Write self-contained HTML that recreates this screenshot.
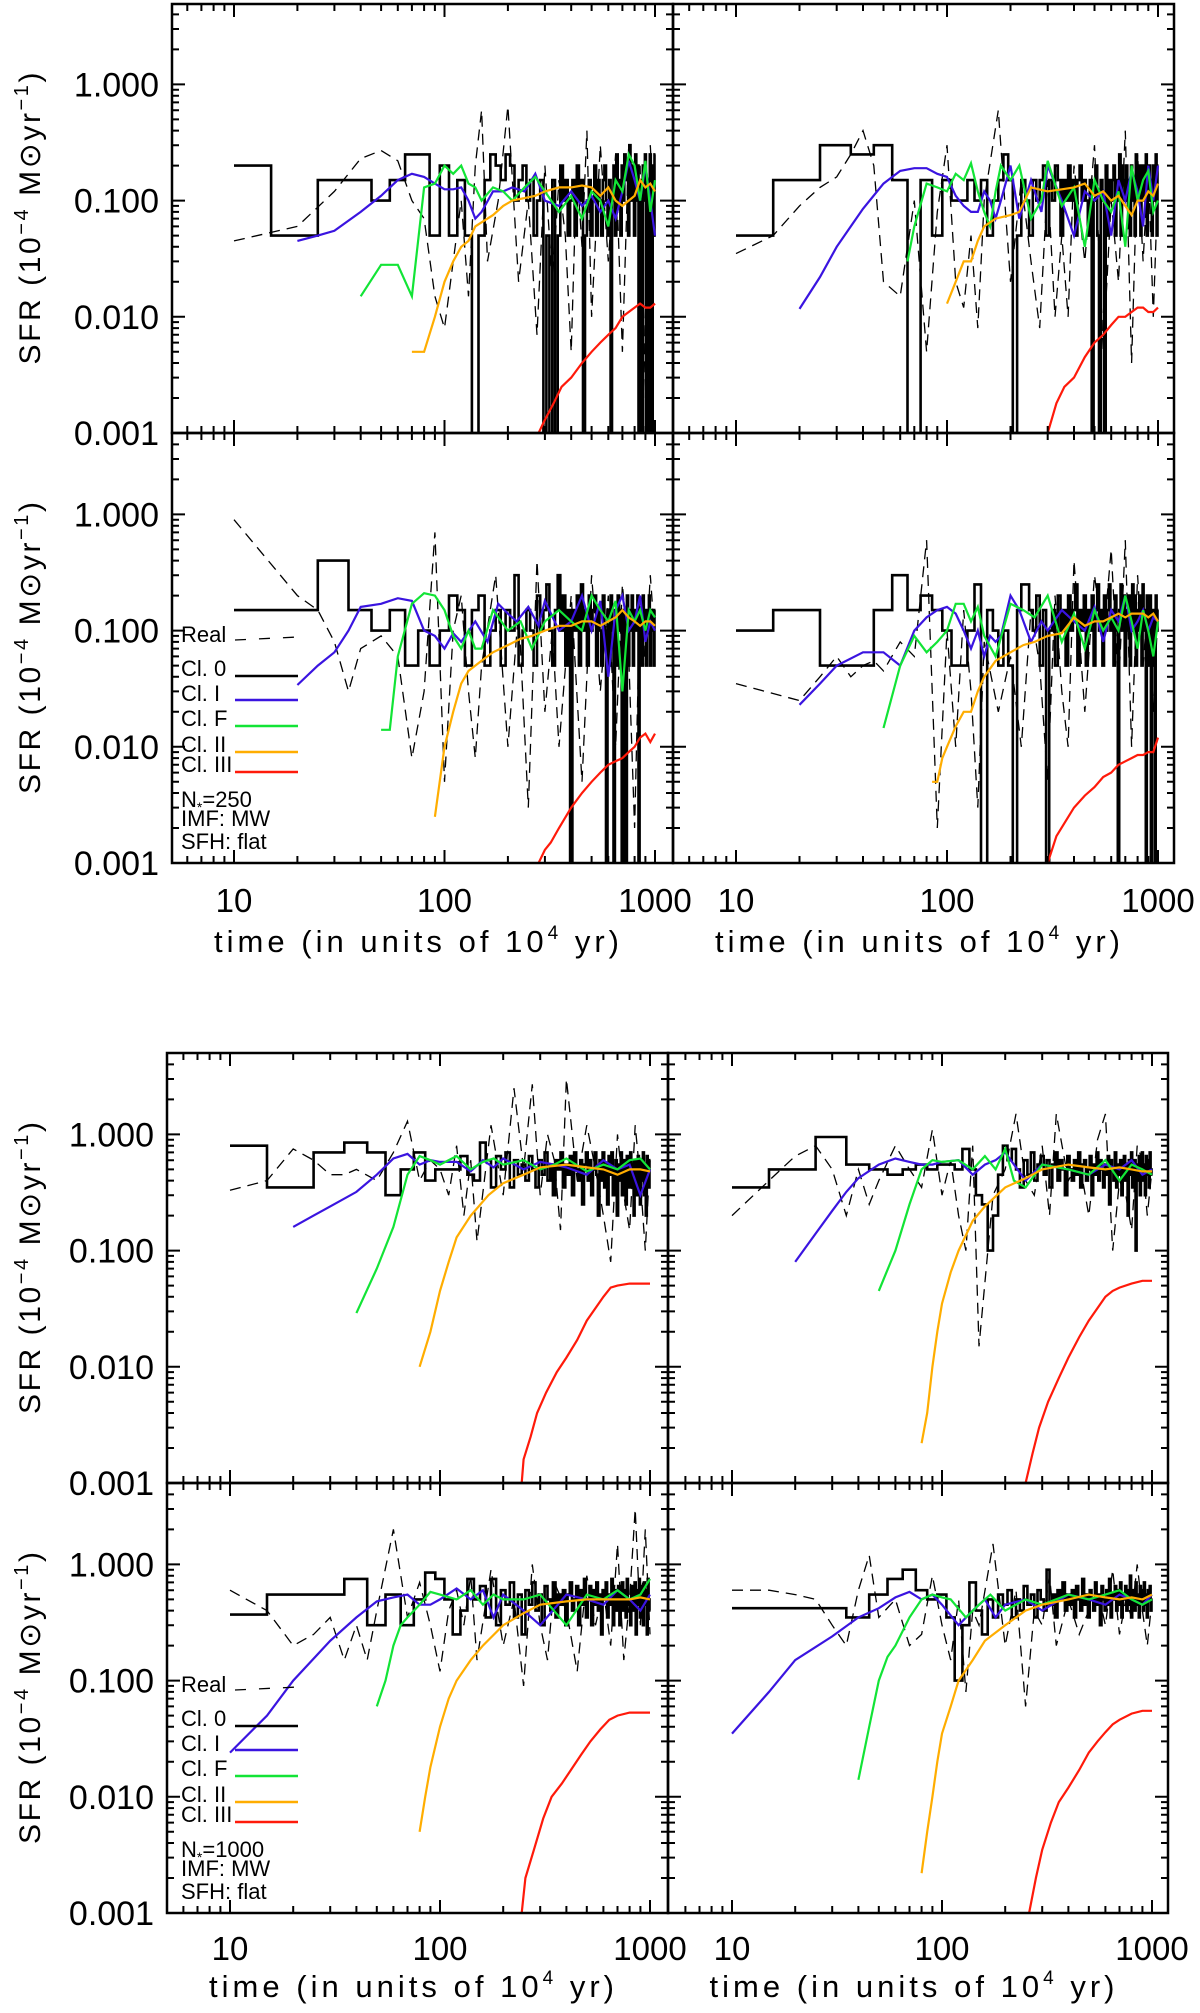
<!DOCTYPE html>
<html><head><meta charset="utf-8"><style>
html,body{margin:0;padding:0;background:#fff;}
svg{display:block;font-family:"Liberation Sans",sans-serif;}
</style></head><body>
<svg id="chart" width="1200" height="2013" viewBox="0 0 1200 2013" xmlns="http://www.w3.org/2000/svg"></svg>
<script>
// ---------- data ----------
const binCenters = Array.from({length:100},(_,i)=>10*(i+1));
const tickValsY = [1, 0.1, 0.01, 0.001];
const tickLabelsY = ["1.000","0.100","0.010","0.001"];
const tickValsX = [10,100,1000];
const tickLabelsX = ["10","100","1000"];

// Panel A (top-left)
const cl0A=[0.2,0.05,0.15,0.15,0.1,0.15,0.25,0.25,0.05,0.2,0.05,0.15,0.05,0,0.05,0.15,0.25,0.2,0.15,0.25,0.2,0.1,0.15,0.2,0.1,0.15,0.05,0.1,0.15,0,0.05,0,0.15,0,0.05,0.2,0.1,0.15,0.05,0.1,0.15,0.05,0.2,0.1,0.15,0,0.05,0.1,0.15,0.05,0.1,0.2,0.05,0.15,0.1,0.05,0.15,0.2,0.1,0.05,0.15,0,0.1,0.2,0.05,0.25,0.1,0.15,0.05,0.2,0.1,0.25,0.15,0.2,0.05,0.3,0.1,0.2,0.15,0.05,0.25,0.1,0.2,0,0.15,0.05,0,0.2,0.1,0.25,0,0.15,0.05,0,0.25,0.1,0,0.2,0.05,0.25];
const tIA=[20,25,30,40,50,60,70,80,90,100,110,120,130,140,150,170,190,210,240,270,300,350,400,450,500,550,600,650,700,750,800,850,900,950,1000];
const vIA=[0.045,0.05,0.055,0.08,0.11,0.15,0.17,0.16,0.14,0.125,0.125,0.13,0.1,0.07,0.08,0.12,0.12,0.13,0.12,0.17,0.1,0.09,0.12,0.09,0.11,0.08,0.1,0.07,0.12,0.22,0.15,0.1,0.2,0.1,0.05];
const tFA=[40,50,60,70,80,90,100,110,120,130,140,150,170,190,210,240,270,300,350,400,450,500,550,600,650,700,750,800,850,900,950,1000];
const vFA=[0.015,0.028,0.028,0.015,0.13,0.14,0.2,0.17,0.2,0.14,0.13,0.1,0.13,0.12,0.1,0.13,0.16,0.12,0.08,0.11,0.07,0.12,0.1,0.06,0.15,0.12,0.25,0.2,0.1,0.22,0.08,0.15];
const tIIA=[70,80,90,100,110,120,130,140,150,170,190,210,240,270,300,350,400,450,500,550,600,650,700,750,800,850,900,950,1000];
const vIIA=[0.005,0.005,0.01,0.02,0.03,0.04,0.045,0.06,0.065,0.075,0.09,0.1,0.105,0.11,0.12,0.13,0.13,0.135,0.13,0.11,0.13,0.1,0.09,0.1,0.11,0.15,0.13,0.14,0.12];
const tIIIA=[280,300,330,360,400,450,500,550,600,650,700,750,800,850,900,950,1000];
const vIIIA=[0.001,0.0013,0.0018,0.0025,0.003,0.004,0.005,0.006,0.007,0.008,0.01,0.011,0.012,0.013,0.012,0.012,0.013];
const tRA=[10,20,30,40,50,60,70,80,90,100,110,120,130,140,150,160,180,200,225,250,275,300,325,350,375,400,425,450,475,500,550,600,650,700,750,800,850,900,950,1000];
const vRA=[0.045,0.06,0.12,0.23,0.27,0.22,0.1,0.07,0.015,0.008,0.03,0.1,0.015,0.2,0.6,0.03,0.1,0.65,0.02,0.1,0.007,0.2,0.02,0.15,0.05,0.005,0.2,0.04,0.4,0.01,0.3,0.03,0.25,0.005,0.3,0.08,0.2,0.002,0.3,0.05];

// Panel B (top-right)
const cl0B=[0.05,0.15,0.3,0.25,0.3,0.15,0,0.15,0.05,0.15,0.1,0.1,0.15,0.1,0.15,0.05,0.1,0.15,0.25,0.15,0,0.05,0.15,0.1,0.05,0.15,0.1,0.15,0.2,0.05,0.15,0.1,0.2,0.15,0.05,0.15,0.1,0.2,0.1,0.15,0.05,0.15,0.2,0.1,0.15,0.1,0.05,0.15,0,0.1,0.2,0.05,0,0.15,0.1,0,0.2,0.05,0.15,0.1,0.15,0.2,0.05,0.15,0.1,0.25,0.05,0.2,0.15,0.1,0.2,0.1,0.15,0.05,0.2,0.1,0.15,0.05,0.25,0.1,0.15,0.2,0.05,0.1,0.2,0.15,0.1,0.25,0.05,0.15,0.2,0.1,0.15,0.05,0.2,0.15,0.1,0.25,0.05,0.2];
const tIB=[20,25,30,35,40,50,60,70,80,90,100,110,120,130,140,150,160,170,180,200,220,250,280,300,350,400,450,500,550,600,650,700,750,800,850,900,950,1000];
const vIB=[0.0117,0.022,0.04,0.06,0.085,0.14,0.18,0.19,0.19,0.17,0.16,0.11,0.09,0.08,0.08,0.12,0.1,0.07,0.1,0.2,0.07,0.15,0.08,0.2,0.1,0.05,0.12,0.1,0.12,0.05,0.15,0.1,0.18,0.12,0.06,0.2,0.1,0.2];
const tFB=[65,70,80,90,100,110,120,130,140,150,160,170,180,200,220,250,280,300,350,400,450,500,550,600,650,700,750,800,850,900,950,1000];
const vFB=[0.03,0.06,0.14,0.13,0.12,0.17,0.15,0.21,0.12,0.08,0.06,0.12,0.2,0.15,0.2,0.07,0.1,0.22,0.09,0.13,0.04,0.15,0.1,0.08,0.12,0.04,0.2,0.1,0.15,0.18,0.08,0.1];
const tIIB=[100,110,120,130,140,150,170,200,220,250,300,350,400,450,500,550,600,650,700,750,800,850,900,950,1000];
const vIIB=[0.013,0.02,0.03,0.03,0.045,0.06,0.07,0.075,0.08,0.13,0.12,0.125,0.13,0.14,0.11,0.12,0.1,0.11,0.09,0.075,0.1,0.1,0.12,0.11,0.14];
const tIIIB=[300,330,360,400,450,500,550,600,650,700,750,800,850,900,950,1000];
const vIIIB=[0.001,0.0018,0.0025,0.003,0.0045,0.006,0.007,0.0085,0.01,0.01,0.011,0.012,0.012,0.011,0.011,0.012];
const tRB=[10,15,20,25,30,35,40,45,50,60,70,80,90,100,110,120,130,140,150,175,200,225,250,275,300,325,350,375,400,450,500,550,600,650,700,750,800,850,900,950,1000];
const vRB=[0.035,0.05,0.09,0.13,0.16,0.25,0.4,0.2,0.02,0.015,0.1,0.005,0.08,0.3,0.02,0.012,0.05,0.008,0.1,0.6,0.02,0.15,0.03,0.008,0.15,0.01,0.05,0.01,0.2,0.03,0.3,0.005,0.1,0.02,0.4,0.004,0.25,0.03,0.2,0.01,0.15];

// Panel C (middle-left)
const cl0C=[0.15,0.15,0.4,0.15,0.1,0.15,0.05,0.1,0.05,0.1,0.2,0.15,0.05,0.15,0.2,0.05,0.1,0.15,0.05,0.15,0.1,0.3,0.05,0.1,0.15,0.1,0.05,0.2,0.1,0.15,0.25,0.1,0.05,0.15,0.3,0.1,0.2,0.05,0.15,0,0.15,0.1,0.2,0.05,0.25,0.1,0.15,0.05,0.2,0.1,0.15,0.2,0.05,0.15,0.1,0.05,0.2,0.1,0,0.15,0.05,0.2,0.1,0,0.15,0.05,0.2,0.1,0.15,0,0.1,0.15,0,0.2,0.05,0.15,0.1,0.2,0.05,0.15,0.1,0.15,0.2,0,0.1,0.15,0.05,0.2,0.1,0.15,0.05,0.15,0.1,0.2,0.05,0.15,0.1,0.15,0.05,0.15];
const tIC=[20,25,30,35,40,50,60,70,80,90,100,110,120,140,160,180,200,220,250,280,300,350,400,450,500,550,600,650,700,750,800,850,900,950,1000];
const vIC=[0.034,0.05,0.065,0.1,0.16,0.17,0.19,0.18,0.1,0.09,0.07,0.095,0.08,0.12,0.08,0.17,0.14,0.12,0.16,0.11,0.18,0.1,0.12,0.2,0.1,0.18,0.04,0.15,0.2,0.1,0.12,0.2,0.08,0.12,0.1];
const tFC=[50,55,60,70,80,90,100,110,120,130,140,150,170,200,230,260,300,350,400,450,500,550,600,650,700,750,800,850,900,950,1000];
const vFC=[0.014,0.014,0.06,0.17,0.21,0.2,0.15,0.09,0.07,0.1,0.07,0.07,0.15,0.1,0.12,0.07,0.12,0.15,0.12,0.1,0.2,0.15,0.12,0.18,0.03,0.15,0.12,0.15,0.1,0.15,0.13];
const tIIC=[90,100,110,120,130,140,150,170,200,230,260,300,350,400,450,500,550,600,650,700,750,800,850,900,950,1000];
const vIIC=[0.0025,0.01,0.02,0.035,0.045,0.05,0.055,0.065,0.075,0.085,0.09,0.1,0.11,0.11,0.12,0.12,0.11,0.12,0.13,0.15,0.13,0.12,0.11,0.12,0.12,0.11];
const tIIIC=[280,300,320,350,400,450,500,550,600,650,700,750,800,850,900,950,1000];
const vIIIC=[0.001,0.0013,0.0015,0.002,0.003,0.004,0.005,0.006,0.007,0.0075,0.008,0.009,0.01,0.012,0.013,0.011,0.013];
const tRC=[10,20,25,30,35,40,50,60,70,80,90,100,110,120,130,140,150,175,200,225,250,275,300,325,350,400,450,500,550,600,650,700,750,800,850,900,950,1000];
const vRC=[0.9,0.2,0.15,0.08,0.03,0.07,0.09,0.06,0.008,0.03,0.7,0.005,0.1,0.2,0.03,0.008,0.05,0.3,0.01,0.15,0.003,0.4,0.02,0.1,0.01,0.2,0.005,0.3,0.03,0.2,0.01,0.25,0.06,0.002,0.2,0.05,0.3,0.08];

// Panel D (middle-right)
const cl0D=[0.1,0.15,0.05,0.05,0.15,0.3,0.15,0.2,0.15,0.1,0.05,0.05,0.1,0.25,0,0.15,0.1,0.05,0.1,0.05,0,0.15,0.25,0.25,0.15,0.1,0.2,0.05,0.15,0,0.1,0.15,0.05,0.2,0.1,0.15,0.05,0.2,0.1,0.15,0.25,0.05,0.15,0.1,0.2,0.05,0.15,0.1,0.2,0.05,0.15,0.25,0.1,0.15,0.05,0.2,0.1,0.15,0.25,0.1,0.15,0.05,0.2,0.1,0,0.15,0.25,0.1,0.2,0.05,0.15,0.1,0.2,0.05,0.15,0.25,0.1,0.2,0.05,0.15,0.1,0.2,0.15,0.05,0.25,0.15,0.1,0,0.2,0.05,0.15,0.2,0,0.1,0.15,0.05,0,0.2,0.1,0.15];
const tID=[20,25,30,40,50,60,70,80,90,100,110,120,130,140,150,160,170,180,200,220,250,280,300,350,400,450,500,550,600,650,700,750,800,850,900,950,1000];
const vID=[0.023,0.035,0.05,0.065,0.065,0.05,0.1,0.13,0.15,0.16,0.14,0.1,0.07,0.1,0.06,0.09,0.08,0.09,0.2,0.15,0.08,0.12,0.1,0.15,0.12,0.1,0.16,0.08,0.15,0.12,0.2,0.1,0.12,0.15,0.1,0.13,0.12];
const tFD=[50,60,70,80,90,100,110,120,130,140,150,170,200,230,260,300,350,400,450,500,550,600,650,700,750,800,850,900,950,1000];
const vFD=[0.0145,0.05,0.09,0.065,0.08,0.1,0.17,0.17,0.12,0.16,0.09,0.06,0.17,0.15,0.13,0.2,0.08,0.14,0.07,0.15,0.1,0.13,0.1,0.2,0.12,0.07,0.15,0.1,0.06,0.12];
const tIID=[85,90,95,100,110,120,130,140,150,170,200,230,260,300,350,400,450,500,550,600,650,700,750,800,850,900,950,1000];
const vIID=[0.005,0.005,0.008,0.01,0.015,0.02,0.02,0.03,0.04,0.055,0.065,0.075,0.08,0.09,0.095,0.13,0.11,0.12,0.12,0.13,0.14,0.13,0.14,0.14,0.14,0.13,0.14,0.12];
const tIIID=[300,330,360,400,450,500,550,600,650,700,750,800,850,900,950,1000];
const vIIID=[0.001,0.0017,0.0022,0.003,0.0038,0.0045,0.0055,0.006,0.007,0.0075,0.008,0.0085,0.0085,0.009,0.009,0.012];
const tRD=[10,20,25,30,35,40,45,50,60,70,80,90,100,110,120,130,140,150,175,200,225,250,275,300,325,350,375,400,450,500,550,600,650,700,750,800,850,900,950,1000];
const vRD=[0.035,0.025,0.04,0.06,0.04,0.05,0.055,0.045,0.08,0.06,0.6,0.002,0.1,0.01,0.15,0.03,0.003,0.08,0.02,0.06,0.01,0.15,0.05,0.005,0.2,0.03,0.01,0.4,0.02,0.3,0.08,0.5,0.03,0.6,0.01,0.3,0.05,0.2,0.02,0.15];

// Panel E (lower block, upper-left)
const cl0E=[0.8,0.35,0.7,0.85,0.7,0.3,0.5,0.7,0.4,0.5,0.5,0.5,0.65,0.45,0.4,0.85,0.6,0.35,0.65,0.5,0.7,0.35,0.6,0.45,0.55,0.4,0.65,0.5,0.35,0.6,0.45,0.7,0.4,0.55,0.3,0.6,0.5,0.7,0.35,0.55,0.45,0.65,0.3,0.7,0.5,0.4,0.6,0.25,0.55,0.7,0.4,0.6,0.3,0.5,0.7,0.45,0.2,0.6,0.4,0.7,0.35,0.55,0.25,0.65,0.45,0.7,0.3,0.5,0.6,0.2,0.55,0.4,0.7,0.3,0.6,0.45,0.25,0.65,0.5,0.35,0.7,0.4,0.55,0.2,0.6,0.45,0.3,0.65,0.5,0.25,0.6,0.4,0.7,0.3,0.55,0.2,0.65,0.45,0.35,0.6];
const tIE=[20,25,30,40,50,60,70,80,90,100,120,140,160,180,200,250,300,350,400,500,600,700,800,900,1000];
const vIE=[0.16,0.2,0.24,0.32,0.45,0.62,0.68,0.55,0.6,0.58,0.58,0.48,0.6,0.52,0.62,0.5,0.58,0.55,0.52,0.45,0.6,0.5,0.55,0.3,0.5];
const tFE=[40,50,60,70,80,90,100,120,140,160,180,200,250,300,350,400,500,600,700,800,900,1000];
const vFE=[0.029,0.07,0.16,0.45,0.65,0.6,0.55,0.65,0.5,0.58,0.62,0.55,0.6,0.5,0.55,0.62,0.48,0.55,0.5,0.6,0.62,0.5];
const tIIE=[80,90,100,110,120,140,170,200,250,300,400,500,600,700,800,900,1000];
const vIIE=[0.01,0.02,0.045,0.08,0.13,0.2,0.3,0.38,0.45,0.52,0.55,0.52,0.5,0.45,0.5,0.5,0.48];
const tIIIE=[245,250,270,290,320,360,400,450,500,550,600,650,700,800,900,1000];
const vIIIE=[0.001,0.0016,0.0025,0.004,0.006,0.009,0.012,0.017,0.025,0.032,0.04,0.048,0.05,0.052,0.052,0.052];
const tRE=[10,15,20,25,30,35,40,50,60,70,80,90,100,110,120,130,140,150,175,200,225,250,275,300,325,350,375,400,450,500,550,600,650,700,750,800,850,900,950,1000];
const vRE=[0.33,0.4,0.75,0.6,0.45,0.45,0.5,0.4,0.7,1.3,0.4,0.6,0.5,0.3,0.8,0.2,0.6,0.12,1.2,0.3,2.5,0.5,2.7,0.3,1.0,0.6,0.15,3.0,0.4,1.2,0.5,0.2,0.08,1.0,0.3,0.15,1.2,0.4,0.1,0.6];

// Panel F (lower block, upper-right)
const cl0F=[0.35,0.5,0.95,0.55,0.5,0.45,0.5,0.55,0.5,0.55,0.55,0.5,0.75,0.5,0.3,0.25,0.1,0.2,0.45,0.8,0.6,0.75,0.5,0.35,0.6,0.45,0.7,0.4,0.55,0.65,0.45,0.6,0.35,0.55,0.7,0.4,0.6,0.5,0.3,0.65,0.5,0.4,0.6,0.45,0.7,0.35,0.55,0.6,0.4,0.5,0.65,0.3,0.55,0.45,0.7,0.4,0.6,0.5,0.35,0.55,0.45,0.65,0.25,0.6,0.5,0.4,0.7,0.35,0.55,0.45,0.6,0.3,0.5,0.65,0.4,0.55,0.2,0.6,0.45,0.7,0.35,0.5,0.6,0.1,0.55,0.4,0.65,0.3,0.5,0.7,0.4,0.55,0.3,0.65,0.45,0.6,0.35,0.7,0.5,0.45];
const tIF=[20,25,30,35,40,50,60,70,80,90,100,120,140,160,180,200,250,300,400,500,600,700,800,900,1000];
const vIF=[0.08,0.14,0.22,0.32,0.42,0.55,0.62,0.58,0.55,0.55,0.58,0.6,0.45,0.55,0.6,0.7,0.4,0.55,0.5,0.45,0.55,0.5,0.6,0.45,0.5];
const tFF=[50,60,70,80,90,100,120,140,160,180,200,220,250,300,400,500,600,700,800,900,1000];
const vFF=[0.045,0.1,0.25,0.5,0.6,0.58,0.6,0.5,0.65,0.5,0.75,0.4,0.35,0.55,0.5,0.45,0.6,0.4,0.55,0.5,0.45];
const tIIF=[80,85,90,95,100,110,120,140,160,200,250,300,400,500,600,700,800,900,1000];
const vIIF=[0.0022,0.004,0.01,0.02,0.035,0.065,0.1,0.18,0.24,0.35,0.42,0.5,0.55,0.52,0.5,0.52,0.5,0.48,0.48];
const tIIIF=[250,270,290,320,360,400,450,500,550,600,650,700,800,900,1000];
const vIIIF=[0.001,0.0018,0.003,0.005,0.008,0.012,0.018,0.025,0.032,0.04,0.045,0.048,0.052,0.055,0.055];
const tRF=[10,15,20,25,30,35,40,45,50,60,70,80,90,100,110,120,130,140,150,175,200,225,250,275,300,325,350,400,450,500,550,600,650,700,750,800,850,900,950,1000];
const vRF=[0.2,0.4,0.65,0.8,0.5,0.2,0.5,0.25,0.4,0.8,0.5,0.35,1.1,0.3,0.6,0.2,0.1,0.8,0.015,0.3,0.5,1.5,0.4,0.3,0.8,0.2,1.5,0.4,0.6,0.2,0.9,1.5,0.1,0.4,0.3,0.15,0.8,0.6,0.2,0.5];

// Panel G (lower block, bottom-left)
const cl0G=[0.37,0.55,0.55,0.75,0.3,0.55,0.3,0.5,0.85,0.75,0.5,0.25,0.4,0.75,0.5,0.65,0.35,0.75,0.3,0.6,0.45,0.7,0.35,0.55,0.25,0.6,0.45,0.7,0.4,0.55,0.3,0.65,0.5,0.4,0.7,0.35,0.55,0.45,0.6,0.3,0.55,0.7,0.4,0.5,0.65,0.3,0.6,0.45,0.75,0.35,0.5,0.65,0.3,0.6,0.45,0.7,0.4,0.55,0.25,0.6,0.5,0.7,0.35,0.55,0.45,0.75,0.3,0.6,0.5,0.4,0.65,0.3,0.55,0.7,0.4,0.6,0.35,0.75,0.45,0.5,0.3,0.65,0.55,0.4,0.7,0.25,0.6,0.45,0.75,0.35,0.55,0.65,0.3,0.7,0.45,0.6,0.25,0.75,0.5,0.4];
const tIG=[10,15,20,30,40,50,60,70,80,90,100,120,140,160,180,200,250,300,400,500,600,700,800,900,1000];
const vIG=[0.024,0.05,0.1,0.22,0.35,0.48,0.52,0.55,0.45,0.45,0.5,0.62,0.5,0.6,0.35,0.55,0.4,0.3,0.55,0.5,0.45,0.6,0.5,0.4,0.55];
const tFG=[50,55,60,65,70,80,90,100,120,140,160,180,200,250,300,400,500,600,700,800,900,1000];
const vFG=[0.06,0.1,0.2,0.3,0.35,0.45,0.58,0.55,0.5,0.6,0.45,0.55,0.5,0.5,0.55,0.3,0.55,0.5,0.6,0.5,0.55,0.75];
const tIIG=[80,85,90,100,110,120,140,160,200,250,300,400,500,600,700,800,900,1000];
const vIIG=[0.005,0.01,0.018,0.04,0.07,0.1,0.15,0.2,0.3,0.38,0.45,0.48,0.5,0.5,0.5,0.5,0.52,0.5];
const tIIIG=[245,255,280,310,340,380,420,470,520,580,640,700,800,900,1000];
const vIIIG=[0.001,0.002,0.0035,0.0065,0.01,0.013,0.017,0.023,0.03,0.038,0.046,0.05,0.053,0.053,0.053];
const tRG=[10,15,20,25,30,35,40,45,50,60,70,80,90,100,110,120,130,140,150,175,200,225,250,275,300,325,350,400,450,500,550,600,650,700,750,800,850,900,950,1000];
const vRG=[0.6,0.4,0.2,0.25,0.35,0.15,0.3,0.15,0.4,2.0,0.35,0.7,0.3,0.12,0.4,0.6,0.3,0.8,0.15,0.9,0.2,0.5,0.09,1.0,0.3,0.15,0.7,0.4,0.12,0.8,0.3,0.6,0.2,1.5,0.15,0.5,3.0,0.3,2.0,0.25];

// Panel H (lower block, bottom-right)
const cl0H=[0.42,0.42,0.42,0.35,0.55,0.75,0.9,0.6,0.5,0.55,0.35,0.1,0.3,0.7,0.4,0.25,0.5,0.35,0.55,0.45,0.6,0.35,0.5,0.4,0.65,0.45,0.55,0.35,0.6,0.5,0.4,0.9,0.45,0.55,0.35,0.6,0.5,0.7,0.4,0.55,0.45,0.6,0.35,0.65,0.5,0.4,0.75,0.45,0.55,0.35,0.6,0.5,0.4,0.7,0.45,0.55,0.3,0.65,0.5,0.4,0.6,0.45,0.75,0.35,0.55,0.5,0.65,0.4,0.6,0.45,0.7,0.35,0.55,0.5,0.65,0.4,0.6,0.45,0.8,0.35,0.55,0.6,0.4,0.7,0.45,0.55,0.35,0.65,0.5,0.6,0.4,0.7,0.45,0.55,0.35,0.6,0.5,0.65,0.4,0.5];
const tIH=[10,15,20,30,40,50,60,70,80,90,100,120,140,160,180,200,250,300,400,500,600,700,800,900,1000];
const vIH=[0.035,0.08,0.15,0.24,0.35,0.42,0.52,0.58,0.5,0.55,0.45,0.3,0.4,0.5,0.35,0.45,0.5,0.4,0.55,0.5,0.45,0.55,0.5,0.45,0.55];
const tFH=[40,45,50,55,60,70,80,90,100,110,130,150,170,200,250,300,400,500,600,700,800,900,1000];
const vFH=[0.014,0.04,0.1,0.16,0.2,0.35,0.5,0.55,0.52,0.5,0.35,0.45,0.55,0.4,0.5,0.45,0.55,0.5,0.55,0.6,0.5,0.45,0.5];
const tIIH=[80,85,90,95,100,110,120,140,160,200,250,300,400,500,600,700,800,900,1000];
const vIIH=[0.0022,0.005,0.01,0.02,0.035,0.06,0.1,0.15,0.22,0.3,0.4,0.45,0.5,0.55,0.52,0.5,0.52,0.5,0.55];
const tIIIH=[260,280,300,330,360,400,450,500,550,600,650,700,800,900,1000];
const vIIIH=[0.001,0.002,0.0035,0.006,0.009,0.012,0.017,0.024,0.03,0.036,0.042,0.046,0.052,0.055,0.055];
const tRH=[10,15,20,25,30,35,40,45,50,60,70,80,90,100,110,120,130,140,150,175,200,225,250,275,300,325,350,400,450,500,550,600,650,700,750,800,850,900,950,1000];
const vRH=[0.6,0.6,0.55,0.5,0.3,0.2,0.6,1.2,0.35,0.5,0.2,0.25,0.8,0.3,0.15,0.5,0.08,0.4,0.3,1.5,0.2,0.6,0.06,0.4,0.3,0.8,0.2,0.5,0.25,0.4,0.6,0.3,0.9,0.25,0.5,0.35,1.0,0.4,0.2,0.5];

// ---------- drawing ----------
const NS="http://www.w3.org/2000/svg";
const svg=document.getElementById('chart');
function mk(tag,attrs,parent){const e=document.createElementNS(NS,tag);for(const k in attrs)e.setAttribute(k,attrs[k]);(parent||svg).appendChild(e);return e;}

const colA={L:172,R:673,x10:234,x1000:655}, colB={L:673,R:1174,x10:736,x1000:1158};
const colC={L:167,R:668,x10:230,x1000:650}, colD={L:668,R:1168,x10:732,x1000:1152};
const panels=[
 {id:'a',c:colA,T:4,B:433,cl0:cl0A,s:[[tIA,vIA],[tFA,vFA],[tIIA,vIIA],[tIIIA,vIIIA]],r:[tRA,vRA]},
 {id:'b',c:colB,T:4,B:433,cl0:cl0B,s:[[tIB,vIB],[tFB,vFB],[tIIB,vIIB],[tIIIB,vIIIB]],r:[tRB,vRB]},
 {id:'c',c:colA,T:433,B:863,cl0:cl0C,s:[[tIC,vIC],[tFC,vFC],[tIIC,vIIC],[tIIIC,vIIIC]],r:[tRC,vRC],legend:'250'},
 {id:'d',c:colB,T:433,B:863,cl0:cl0D,s:[[tID,vID],[tFD,vFD],[tIID,vIID],[tIIID,vIIID]],r:[tRD,vRD]},
 {id:'e',c:colC,T:1053,B:1483,cl0:cl0E,s:[[tIE,vIE],[tFE,vFE],[tIIE,vIIE],[tIIIE,vIIIE]],r:[tRE,vRE]},
 {id:'f',c:colD,T:1053,B:1483,cl0:cl0F,s:[[tIF,vIF],[tFF,vFF],[tIIF,vIIF],[tIIIF,vIIIF]],r:[tRF,vRF]},
 {id:'g',c:colC,T:1483,B:1913,cl0:cl0G,s:[[tIG,vIG],[tFG,vFG],[tIIG,vIIG],[tIIIG,vIIIG]],r:[tRG,vRG],legend:'1000'},
 {id:'h',c:colD,T:1483,B:1913,cl0:cl0H,s:[[tIH,vIH],[tFH,vFH],[tIIH,vIIH],[tIIIH,vIIIH]],r:[tRH,vRH]},
];
const colors=['#3a14e0','#12e436','#ffad00','#ff1a0a'];
const names=['class-i','class-flat','class-ii','class-iii'];
const DEC=116.2;

panels.forEach((p,pi)=>{
  const c=p.c;
  const X=t=>c.x10+(Math.log10(t)-1)*(c.x1000-c.x10)/2;
  const Y=v=>p.B-(Math.log10(Math.max(v,1e-5))+3)*DEC;
  const g=mk('g',{});
  
  
  const cp=mk('clipPath',{id:'clip'+p.id},g);
  mk('rect',{x:c.L,y:p.T,width:c.R-c.L,height:p.B-p.T},cp);
  const plot=mk('g',{'clip-path':'url(#clip'+p.id+')'},g);
  // real (dashed)
  let d='';p.r[0].forEach((t,i)=>{d+=(i?'L':'M')+X(t).toFixed(1)+','+Y(p.r[1][i]).toFixed(1);});
  const rl=mk('path',{d:d,fill:'none',stroke:'#000','stroke-width':1.3,'stroke-dasharray':'11,7'},plot);
  
  
  // class 0 histogram
  d='';
  binCenters.forEach((t,i)=>{const x0=X(Math.max(t-5,10)),x1=X(t+5),y=Y(p.cl0[i]);
    d+=(i?'L':'M')+x0.toFixed(1)+','+y.toFixed(1)+'L'+x1.toFixed(1)+','+y.toFixed(1);});
  const h=mk('path',{d:d,fill:'none',stroke:'#000','stroke-width':2.6},plot);
  
  
  p.s.forEach((s,k)=>{
    let dd='';s[0].forEach((t,i)=>{dd+=(i?'L':'M')+X(t).toFixed(1)+','+Y(s[1][i]).toFixed(1);});
    const l=mk('path',{d:dd,fill:'none',stroke:colors[k],'stroke-width':2.2},plot);
    
    
  });
  // frame
  const fr=mk('rect',{x:c.L,y:p.T,width:c.R-c.L,height:p.B-p.T,fill:'none',stroke:'#000','stroke-width':2.5},g);
  
  
  // x ticks
  let td='';
  for(let e=0;e<=3;e++)for(let m=1;m<=9;m++){const t=m*Math.pow(10,e);const x=X(t);if(x<c.L+1||x>c.R-1)continue;
    const len=(m===1)?13:7;td+='M'+x.toFixed(1)+','+p.B+'v'+(-len)+'M'+x.toFixed(1)+','+p.T+'v'+len;}
  for(let e=-3;e<=0;e++)for(let m=1;m<=9;m++){const v=m*Math.pow(10,e);const y=Y(v);if(y<p.T+1||y>p.B-1)continue;
    const len=(m===1)?13:7;td+='M'+c.L+','+y.toFixed(1)+'h'+len+'M'+c.R+','+y.toFixed(1)+'h'+(-len);}
  const tk=mk('path',{d:td,stroke:'#000','stroke-width':2,fill:'none'},g);
  
  
  // y tick labels (left column)
  if(c===colA||c===colC){
    tickValsY.forEach((v,i)=>{const t=mk('text',{x:c.L-13,y:(Y(v)+12).toFixed(1),'text-anchor':'end','font-size':34},g);
      t.textContent=tickLabelsY[i];
      
      });
    const cy=(p.T+p.B)/2;
    const yl=mk('text',{x:0,y:0,transform:'translate(40,'+cy+') rotate(-90)','text-anchor':'middle','font-size':30,textLength:292,lengthAdjust:'spacing'},g);
    yl.innerHTML='SFR (10<tspan dy="-12" font-size="20">−4</tspan><tspan dy="12"> M</tspan>⊙yr<tspan dy="-12" font-size="20">−1</tspan><tspan dy="12">)</tspan>';
    
    
  }
  // x tick labels for bottom rows
  if(p.id==='c'||p.id==='d'||p.id==='g'||p.id==='h'){
    const base=(p.id==='c'||p.id==='d')?912:1960, tb=(p.id==='c'||p.id==='d')?952:1997;
    tickValsX.forEach((t,i)=>{const tx=mk('text',{x:X(t).toFixed(1),y:base,'text-anchor':'middle','font-size':33},g);
      tx.textContent=tickLabelsX[i];
      
      });
    const xt=mk('text',{x:(c.L+c.R)/2-6,y:tb,'text-anchor':'middle','font-size':31,textLength:405,lengthAdjust:'spacing'},g);
    xt.innerHTML='time (in units of 10<tspan dy="-13" font-size="19">4</tspan><tspan dy="13"> yr)</tspan>';
    
    
  }
  // legend
  if(p.legend){
    const lg=mk('g',{'font-size':22},g);
    
    
    const T=p.T, lx=181, l0=235, l1=298;
    const ents=[['Real',209,207,'#000',true],['Cl. 0',243,243,'#000'],['Cl. I',268,267,colors[0]],['Cl. F',293,293,colors[1]],['Cl. II',319,319,colors[2]],['Cl. III',339,339,colors[3]]];
    ents.forEach(en=>{
      const t=mk('text',{x:lx,y:T+en[1]},lg);t.textContent=en[0];
      
      
      const ln=mk('line',{x1:l0,x2:l1,y1:T+en[2],y2:T+en[2]+(en[4]?-3:0),stroke:en[3],'stroke-width':en[4]?1.3:2.4,'stroke-dasharray':en[4]?'11,13':'none'},lg);
      
      
    });
    const info=[['N<tspan dy="5" font-size="14">*</tspan><tspan dy="-5">='+p.legend+'</tspan>',374],['IMF:  MW',393],['SFH:  flat',416]];
    info.forEach(f=>{const t=mk('text',{x:lx,y:T+f[1]},lg);t.innerHTML=f[0];
      
      });
  }
});
</script>
</body></html>
